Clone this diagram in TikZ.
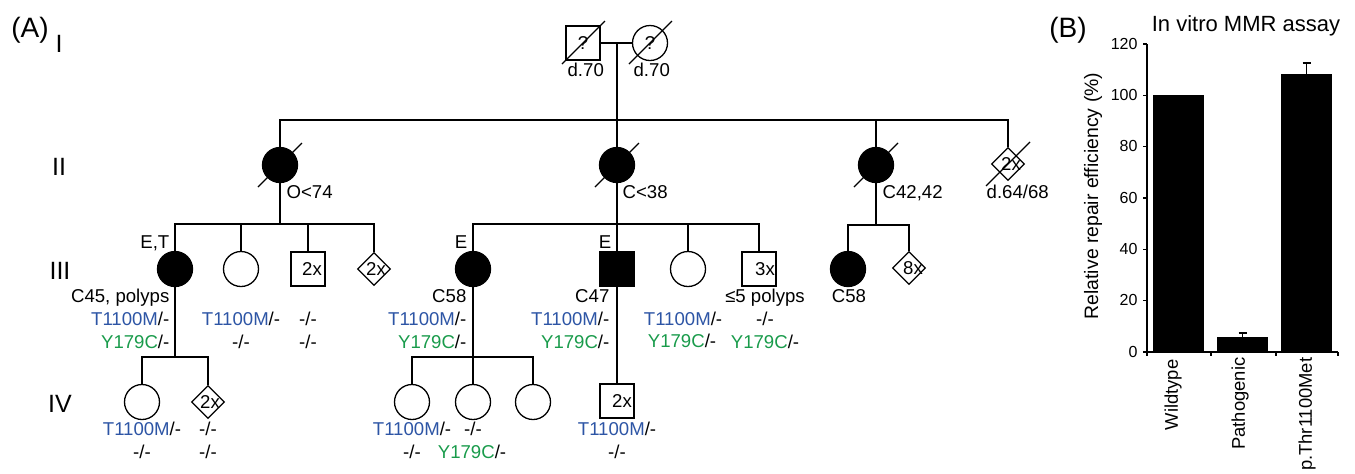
\documentclass[tikz,border=0pt]{standalone}
\usepackage{fontspec}
\setmainfont{Liberation Sans}
\usetikzlibrary{shapes.geometric}
\definecolor{mutblue}{RGB}{45,85,165}
\definecolor{mutgreen}{RGB}{25,155,75}
\newcommand\pedfont{\fontsize{9.3}{11}\selectfont}
\newcommand\bl[1]{\textcolor{mutblue}{#1}}
\newcommand\gr[1]{\textcolor{mutgreen}{#1}}
\begin{document}
\begin{tikzpicture}[x=0.5pt,y=-0.5pt,line width=0.65pt,
  fem/.style={circle,draw,minimum size=17.5pt,inner sep=0pt},
  aff/.style={fill=black},
  mal/.style={rectangle,draw,minimum size=17pt,inner sep=0pt,font=\pedfont},
  unk/.style={diamond,draw,minimum size=16.5pt,inner sep=0pt},
  txt/.style={font=\pedfont,inner sep=0pt},
  gen/.style={font=\fontsize{12.5}{14}\selectfont,inner sep=0pt},
  panel/.style={font=\fontsize{14}{16}\selectfont,inner sep=0pt},
  tick/.style={font=\fontsize{8}{9}\selectfont,inner sep=0pt},
  xlab/.style={font=\fontsize{9.2}{10}\selectfont,inner sep=0pt,rotate=90,anchor=east}]
\useasboundingbox (0,0) rectangle (1355,473);

% panel and generation labels
\node[panel] (lA) at (30,30) {(A)};
\node[gen] (gI) at (59,44) {I};
\node[gen] (gII) at (59,167) {II};
\node[gen] (gIII) at (60,271) {III};
\node[gen] (gIV) at (60,404) {IV};

% Generation I
\node[mal] (I1) at (583,43) {?};
\node[fem,font=\pedfont] (I2) at (650,43) {?};
\draw ([shift={(-21,21)}]I1.center) -- ([shift={(22,-22)}]I1.center);
\draw ([shift={(-21,21)}]I2.center) -- ([shift={(22,-22)}]I2.center);
\node[txt,anchor=mid west] (tI1) at (567,71) {d.70};
\node[txt,anchor=mid west] (tI2) at (633,71) {d.70};
\coordinate (mI) at (617,43);
\coordinate (sII) at (617,120);
\draw (I1) -- (I2);
\draw (mI) -- (sII);

% Generation II
\node[fem,aff] (II1) at (280,165) {};
\node[fem,aff] (II2) at (617,165) {};
\node[fem,aff] (II3) at (876,165) {};
\node[unk,label={[font=\pedfont,inner sep=0pt,xshift=1.5pt]center:2x}] (II4) at (1008,164) {};
\foreach \n in {II1,II2,II3,II4}
  \draw ([shift={(-22,22)}]\n.center) -- ([shift={(22,-22)}]\n.center);
\draw (II1.north) |- (II4.north |- sII) -- (II4.north);
\draw (II2.north) -- (sII);
\draw (II3.north) -- (II3.north |- sII);
\node[txt,anchor=mid west] (tII1) at (286,193) {O<74};
\node[txt,anchor=mid west] (tII2) at (622,193) {C<38};
\node[txt,anchor=mid west] (tII3) at (882,193) {C42,42};
\node[txt,anchor=mid west] (tII4) at (986,193) {d.64/68};

% Generation III
\coordinate (sIIIa) at (280,224);
\coordinate (sIIIb) at (617,224);
\coordinate (sIIIc) at (876,225);
\node[fem,aff] (IIIa1) at (175,269) {};
\node[fem] (IIIa2) at (241,269) {};
\node[mal,label={[font=\pedfont,inner sep=0pt,xshift=2pt]center:2x}] (IIIa3) at (308,269) {};
\node[unk,label={[font=\pedfont,inner sep=0pt,xshift=1pt]center:2x}] (IIIa4) at (374,269) {};
\node[fem,aff] (IIIb1) at (473,269) {};
\node[mal,aff] (IIIb2) at (617,269) {};
\node[fem] (IIIb3) at (688,269) {};
\node[mal,label={[font=\pedfont,inner sep=0pt,xshift=3pt]center:3x}] (IIIb4) at (759,269) {};
\node[fem,aff] (IIIc1) at (848,269) {};
\node[unk,label={[font=\pedfont,inner sep=0pt,xshift=2pt]center:8x}] (IIIc2) at (909,268) {};

\draw (II1.south) -- (sIIIa);
\draw (IIIa1.north) |- (sIIIa) -| (IIIa4.north);
\draw (IIIa2.north) -- (IIIa2.north |- sIIIa);
\draw (IIIa3.north) -- (IIIa3.north |- sIIIa);
\draw (II2.south) -- (IIIb2.north);
\draw (IIIb1.north) |- (sIIIb) -| (IIIb4.north);
\draw (IIIb3.north) -- (IIIb3.north |- sIIIb);
\draw (II3.south) -- (sIIIc);
\draw (IIIc1.north) |- (sIIIc) -| (IIIc2.north);

% labels generation III
\node[txt,anchor=mid east] (ta0) at (170,243) {E,T};
\node[txt,anchor=mid east] (ta1) at (170,297) {C45, polyps};
\node[txt,anchor=mid east] (ta2) at (170,320) {\bl{T1100M}/-};
\node[txt,anchor=mid east] (ta3) at (170,343) {\gr{Y179C}/-};
\node[txt,anchor=mid] (tb1) at (241,320) {\bl{T1100M}/-};
\node[txt,anchor=mid] (tb2) at (241,343) {-/-};
\node[txt,anchor=mid] (tc1) at (308,320) {-/-};
\node[txt,anchor=mid] (tc2) at (308,343) {-/-};
\node[txt,anchor=mid east] (td0) at (468,243) {E};
\node[txt,anchor=mid east] (td1) at (467,297) {C58};
\node[txt,anchor=mid east] (td2) at (467,320) {\bl{T1100M}/-};
\node[txt,anchor=mid east] (td3) at (467,343) {\gr{Y179C}/-};
\node[txt,anchor=mid east] (te0) at (612,243) {E};
\node[txt,anchor=mid east] (te1) at (610,297) {C47};
\node[txt,anchor=mid east] (te2) at (610,320) {\bl{T1100M}/-};
\node[txt,anchor=mid east] (te3) at (610,343) {\gr{Y179C}/-};
\node[txt,anchor=mid] (tf1) at (683,320) {\bl{T1100M}/-};
\node[txt,anchor=mid] (tf2) at (682,342) {\gr{Y179C}/-};
\node[txt,anchor=mid] (tg0) at (765,297) {≤5 polyps};
\node[txt,anchor=mid] (tg1) at (765,320) {-/-};
\node[txt,anchor=mid] (tg2) at (765,343) {\gr{Y179C}/-};
\node[txt,anchor=mid] (th1) at (849,297) {C58};

% Generation IV
\coordinate (sIVa) at (175,357);
\coordinate (sIVb) at (473,357);
\node[fem] (IVa1) at (142,402) {};
\node[unk,label={[font=\pedfont,inner sep=0pt,xshift=1pt]center:2x}] (IVa2) at (208,402) {};
\node[fem] (IVb1) at (412,402) {};
\node[fem] (IVb2) at (473,402) {};
\node[fem] (IVb3) at (533,402) {};
\node[mal,label={[font=\pedfont,inner sep=0pt,xshift=2.5pt]center:2x}] (IVc) at (617,401) {};
\draw (IIIa1.south) -- (sIVa);
\draw (IVa1.north) |- (sIVa) -| (IVa2.north);
\draw (IIIb1.south) -- (IVb2.north);
\draw (IVb1.north) |- (sIVb) -| (IVb3.north);
\draw (IIIb2.south) -- (IVc.north);

\node[txt,anchor=mid] (ti1) at (142,430) {\bl{T1100M}/-};
\node[txt,anchor=mid] (ti2) at (142,453) {-/-};
\node[txt,anchor=mid] (tj1) at (208,430) {-/-};
\node[txt,anchor=mid] (tj2) at (208,453) {-/-};
\node[txt,anchor=mid] (tk1) at (412,430) {\bl{T1100M}/-};
\node[txt,anchor=mid] (tk2) at (412,453) {-/-};
\node[txt,anchor=mid] (tl1) at (473,430) {-/-};
\node[txt,anchor=mid] (tl2) at (472,453) {\gr{Y179C}/-};
\node[txt,anchor=mid] (tm1) at (617,430) {\bl{T1100M}/-};
\node[txt,anchor=mid] (tm2) at (617,453) {-/-};

% Panel B: bar chart
\node[panel] (lB) at (1068,30) {(B)};
\node[font=\fontsize{11}{13}\selectfont,inner sep=0pt] (title) at (1246,26) {In vitro MMR assay};
\begin{scope}[line width=0.55pt]
\draw (1147,44) -- (1147,352) -- (1338,352);
\foreach \v/\yy in {0/352,20/300.7,40/249.3,60/198,80/146.6,100/95.3,120/44}{
  \draw (1143,\yy) -- (1147,\yy);
  \node[tick,anchor=mid east] (yt\v) at (1138,\yy) {\v};
}
\foreach \xx in {1147,1211,1276,1338}
  \draw (\xx,352) -- (\xx,356);
\fill (1153,352) rectangle (1204,95.3);
\fill (1217,352) rectangle (1268,337);
\fill (1281,352) rectangle (1332,74);
\draw (1242.5,337) -- (1242.5,333);
\draw (1238.5,333) -- (1246.5,333);
\draw (1306.5,74) -- (1306.5,63);
\draw (1302.5,63) -- (1310.5,63);
\end{scope}
\node[font=\fontsize{9.7}{11}\selectfont,inner sep=0pt,rotate=90] (ylab) at (1093,196) {Relative repair efficiency (\%)};
\node[xlab] (x1) at (1173,359) {Wildtype};
\node[xlab] (x2) at (1240,357) {Pathogenic};
\node[xlab] (x3) at (1307,357) {p.Thr1100Met};
\end{tikzpicture}
\end{document}
